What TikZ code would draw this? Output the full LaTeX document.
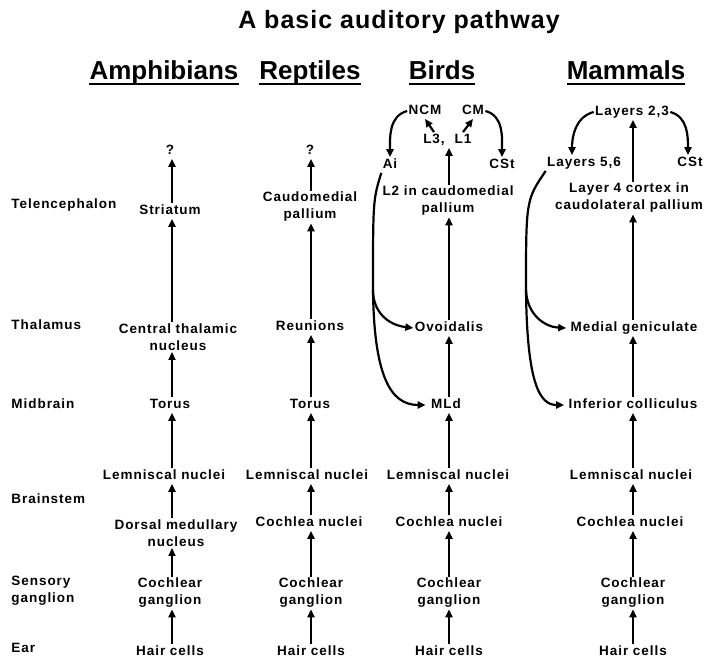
\documentclass[tikz,border=0pt]{standalone}
\usepackage{fontspec}
\setmainfont{Liberation Sans}
\newfontfamily\labf[LetterSpace=7]{Liberation Sans}
\newfontfamily\titf[LetterSpace=4]{Liberation Sans}
\usetikzlibrary{arrows.meta}
\begin{document}
\begin{tikzpicture}[x=1pt,y=-1pt,
  lab/.style={font=\labf\bfseries\fontsize{13.5}{17}\selectfont, align=center, inner sep=1.5pt, outer sep=0pt},
  one/.style={lab, text height=9.8pt, text depth=3pt},
  rowlab/.style={lab, align=left, anchor=west},
  hdr/.style={font=\bfseries\fontsize{26}{30}\selectfont, inner sep=0pt, anchor=base},
  ttl/.style={font=\titf\bfseries\fontsize{25}{30}\selectfont, inner sep=0pt, anchor=base},
  arr/.style={line width=2.2pt, -{Triangle[length=8pt,width=7pt]}},
  stem/.style={line width=2.2pt},
  uline/.style={line width=2.5pt}
]
\useasboundingbox (0,0) rectangle (710,659);

% title and headers
\node[ttl] (title) at (399,28) {A basic auditory pathway};
\node[hdr] (hA) at (164,79) {Amphibians};
\node[hdr] (hR) at (310,79) {Reptiles};
\node[hdr] (hB) at (442,79) {Birds};
\node[hdr] (hM) at (626,79) {Mammals};
\foreach \h in {hA,hR,hB,hM}
  \draw[uline] ([yshift=-5pt]\h.base west) -- ([yshift=-5pt]\h.base east);

% row labels
\node[rowlab] (rT) at (10,205) {Telencephalon};
\node[rowlab] (rTh) at (10,325) {Thalamus};
\node[rowlab] (rM) at (10,404) {Midbrain};
\node[rowlab] (rB) at (10,499) {Brainstem};
\node[rowlab] (rS) at (10,591) {Sensory\\ganglion};
\node[rowlab] (rE) at (10,648) {Ear};

% Amphibians
\coordinate (c1) at (172,0);
\node[one] (a0) at (170,151) {?};
\node[one] (a1) at (170,211) {Striatum};
\node[lab] (a2) at (178,337) {Central thalamic\\nucleus};
\node[one] (a3) at (170,405) {Torus};
\node[one] (a4) at (164,476) {Lemniscal nuclei};
\node[lab] (a5) at (176,533) {Dorsal medullary\\nucleus};
\node[lab] (a6) at (170,593) {Cochlear\\ganglion};
\node[one] (a7) at (170,652) {Hair cells};
\draw[arr] (a7.north -| c1) -- (a6.south -| c1);
\draw[arr] (a6.north -| c1) -- (a5.south -| c1);
\draw[arr] (a5.north -| c1) -- (a4.south -| c1);
\draw[arr] (a4.north -| c1) -- (a3.south -| c1);
\draw[arr] (a3.north -| c1) -- (a2.south -| c1);
\draw[arr] (a2.north -| c1) -- (a1.south -| c1);
\draw[arr] (a1.north -| c1) -- (a0.south -| c1);

% Reptiles
\coordinate (c2) at (311,0);
\node[one] (r0) at (310,151) {?};
\node[lab] (r1) at (310,207) {Caudomedial\\pallium};
\node[one] (r2) at (310,327) {Reunions};
\node[one] (r3) at (310,405) {Torus};
\node[one] (r4) at (307,476) {Lemniscal nuclei};
\node[one] (r5) at (309,523) {Cochlea nuclei};
\node[lab] (r6) at (311,593) {Cochlear\\ganglion};
\node[one] (r7) at (311,652) {Hair cells};
\draw[arr] (r7.north -| c2) -- (r6.south -| c2);
\draw[arr] (r6.north -| c2) -- (r5.south -| c2);
\draw[arr] (r5.north -| c2) -- (r4.south -| c2);
\draw[arr] (r4.north -| c2) -- (r3.south -| c2);
\draw[arr] (r3.north -| c2) -- (r2.south -| c2);
\draw[arr] (r2.north -| c2) -- (r1.south -| c2);
\draw[arr] (r1.north -| c2) -- (r0.south -| c2);

% Birds
\coordinate (c3) at (449,0);
\node[one] (bNCM) at (425,111) {NCM};
\node[one] (bCM) at (473,111) {CM};
\node[one] (bL3) at (434,140) {L3,};
\node[one] (bL1) at (463,140) {L1};
\node[one] (bAi) at (390,165) {Ai};
\node[one] (bCSt) at (502,165) {CSt};
\node[lab] (b1) at (448,201) {L2 in caudomedial\\pallium};
\node[one] (b2) at (449,328) {Ovoidalis};
\node[one] (b3) at (446,405) {MLd};
\node[one] (b4) at (448,476) {Lemniscal nuclei};
\node[one] (b5) at (449,523) {Cochlea nuclei};
\node[lab] (b6) at (449,593) {Cochlear\\ganglion};
\node[one] (b7) at (449,652) {Hair cells};
\draw[arr] (b7.north -| c3) -- (b6.south -| c3);
\draw[arr] (b6.north -| c3) -- (b5.south -| c3);
\draw[arr] (b5.north -| c3) -- (b4.south -| c3);
\draw[arr] (b4.north -| c3) -- (b3.south -| c3);
\draw[arr] (b3.north -| c3) -- (b2.south -| c3);
\draw[arr] (b2.north -| c3) -- (b1.south -| c3);
\draw[arr] (b1.north -| c3) -- (bL3.south -| c3);
\draw[arr] (bL3.north) -- (bNCM.south);
\draw[arr] (bL1.north) -- (bCM.south);
\draw[arr] (bNCM.west) to[out=195,in=90] (bAi.north);
\draw[arr] (bCM.east) to[out=-15,in=90] (bCSt.north);
\coordinate (bsp) at (373,290);
\draw[stem] (bAi.south west) .. controls (373,200) .. (bsp);
\draw[arr] (bsp) .. controls (373,312) and (388,325) .. (b2.west);
\draw[arr] (bsp) .. controls (374,375) and (390,405) .. ([xshift=-4pt]b3.west);

% Mammals
\coordinate (c4) at (633,0);
\node[one] (mL23) at (632,112) {Layers 2,3};
\node[one] (mL56) at (584,163) {Layers 5,6};
\node[one] (mCSt) at (690,163) {CSt};
\node[lab] (m1) at (629,198) {Layer 4 cortex in\\caudolateral pallium};
\node[one] (m2) at (634,328) {Medial geniculate};
\node[one] (m3) at (633,405) {Inferior colliculus};
\node[one] (m4) at (631,476) {Lemniscal nuclei};
\node[one] (m5) at (630,523) {Cochlea nuclei};
\node[lab] (m6) at (633,593) {Cochlear\\ganglion};
\node[one] (m7) at (633,652) {Hair cells};
\draw[arr] (m7.north -| c4) -- (m6.south -| c4);
\draw[arr] (m6.north -| c4) -- (m5.south -| c4);
\draw[arr] (m5.north -| c4) -- (m4.south -| c4);
\draw[arr] (m4.north -| c4) -- (m3.south -| c4);
\draw[arr] (m3.north -| c4) -- (m2.south -| c4);
\draw[arr] (m2.north -| c4) -- (m1.south -| c4);
\draw[arr] (m1.north -| c4) -- (mL23.south -| c4);
\draw[arr] (mL23.west) to[out=195,in=90] ([xshift=-12pt]mL56.north);
\draw[arr] (mL23.east) to[out=-15,in=90] ([xshift=-2pt]mCSt.north);
\coordinate (msp) at (526,290);
\draw[stem] (mL56.south west) .. controls (526,200) .. (msp);
\draw[arr] (msp) .. controls (527,315) and (545,327) .. ([xshift=-3pt]m2.west);
\draw[arr] (msp) .. controls (527,385) and (540,405) .. ([xshift=-3pt]m3.west);
\end{tikzpicture}
\end{document}
